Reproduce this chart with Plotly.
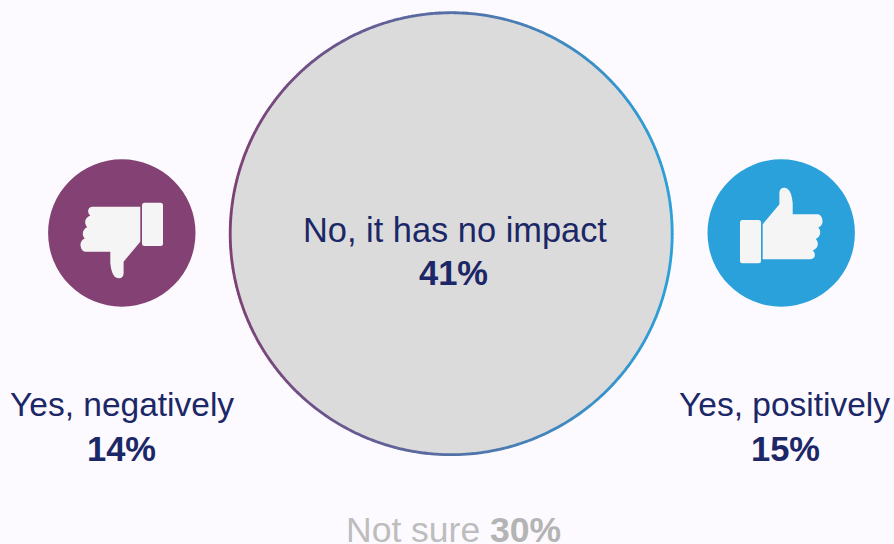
import numpy as np
import plotly.graph_objects as go

WIDTH, HEIGHT = 894, 544
BACKGROUND = "#FCFAFE"
NAVY = "#1B2766"
GREY_TEXT = "#BDBDBD"
GREY_BOLD = "#B4B4B4"
FONT = "Liberation Sans"

# Survey answers
categories = ["Yes, negatively", "No, it has no impact", "Yes, positively", "Not sure"]
shares = [14, 41, 15, 30]

# Ring gradient ends, left to right
RING_LEFT = (125, 62, 116)
RING_RIGHT = (42, 160, 217)

# Hand outline for the thumbs-down icon, relative to the icon centre
HAND = [
    ("M", 18.5, -26.3), ("L", -29.0, -26.3), ("Q", -34.5, -26.0, -33.5, -20.5),
    ("Q", -33.0, -18.5, -31.5, -17.5), ("Q", -37.5, -15.0, -36.5, -9.5),
    ("Q", -36.0, -7.0, -34.5, -6.0), ("Q", -40.0, -3.0, -38.8, 2.5),
    ("Q", -38.5, 4.0, -37.0, 5.5), ("Q", -42.5, 8.0, -41.0, 14.0),
    ("Q", -40.0, 18.7, -36.0, 18.7), ("L", -11.5, 18.7), ("L", -11.5, 30.0),
    ("Q", -10.0, 45.3, -3.0, 45.3), ("Q", 2.5, 45.3, 1.8, 38.0),
    ("L", 1.8, 28.7), ("L", 18.5, 8.7), ("Z",),
]
CUFF = (20.2, 41.2, -30.3, 13.0)


def hand_path(cx, cy, flip):
    s = -1 if flip else 1
    parts = []
    for cmd in HAND:
        nums = [
            f"{cx + s * v:.2f}" if i % 2 == 0 else f"{cy + s * v:.2f}"
            for i, v in enumerate(cmd[1:])
        ]
        parts.append(cmd[0] + " " + " ".join(nums))
    return " ".join(parts)


def rounded_rect(x0, x1, y0, y1, r=2.5):
    return (
        f"M {x0 + r} {y0} L {x1 - r} {y0} Q {x1} {y0} {x1} {y0 + r} "
        f"L {x1} {y1 - r} Q {x1} {y1} {x1 - r} {y1} L {x0 + r} {y1} "
        f"Q {x0} {y1} {x0} {y1 - r} L {x0} {y0 + r} Q {x0} {y0} {x0 + r} {y0} Z"
    )


def icon(cx, cy, r, colour, flip):
    s = -1 if flip else 1
    xa, xb = sorted((cx + s * CUFF[0], cx + s * CUFF[1]))
    ya, yb = sorted((cy + s * CUFF[2], cy + s * CUFF[3]))
    return [
        dict(type="circle", x0=cx - r, x1=cx + r, y0=cy - r, y1=cy + r,
             fillcolor=colour, line_width=0),
        dict(type="path", path=hand_path(cx, cy, flip), fillcolor="#F5F5F5", line_width=0),
        dict(type="path", path=rounded_rect(xa, xb, ya, yb), fillcolor="#F5F5F5", line_width=0),
    ]


# Central disc with a ring whose colour runs from left to right
CX, CY, R = 451.2, 233.7, 221.0
shapes = [dict(type="circle", x0=CX - R, x1=CX + R, y0=CY - R, y1=CY + R,
               fillcolor="#DBDBDB", line_width=0)]
angles = np.linspace(0, 2 * np.pi, 361)
for a0, a1 in zip(angles[:-1], angles[1:]):
    t = (np.cos((a0 + a1) / 2) + 1) / 2
    rgb = [round(p + (q - p) * t) for p, q in zip(RING_LEFT, RING_RIGHT)]
    a2 = a1 + 0.002
    shapes.append(dict(
        type="path",
        path=f"M {CX + R * np.cos(a0):.2f} {CY + R * np.sin(a0):.2f} "
             f"L {CX + R * np.cos(a2):.2f} {CY + R * np.sin(a2):.2f}",
        line=dict(color=f"rgb({rgb[0]},{rgb[1]},{rgb[2]})", width=2.8),
    ))

shapes += icon(121.8, 233.0, 73.7, "#834174", False)
shapes += icon(781.2, 233.0, 73.7, "#2AA1DA", True)


def label(x, y, text, colour=NAVY, size=33.5):
    return dict(x=x, y=y, text=text, showarrow=False, xanchor="center", yanchor="middle",
                font=dict(family=FONT, size=size, color=colour))


not_sure = (f"{categories[3]} "
            f"<b><span style='color:{GREY_BOLD}'>{shares[3]}%</span></b>")

annotations = [
    label(121.5, 404.5, categories[0]),
    label(121, 449, f"<b>{shares[0]}%</b>", size=34.5),
    label(455, 230, categories[1], size=34.4),
    label(453.5, 273, f"<b>{shares[1]}%</b>", size=34.5),
    label(784, 404.5, categories[2]),
    label(785, 449, f"<b>{shares[2]}%</b>", size=34.5),
    label(453.5, 530, not_sure, GREY_TEXT, size=35.5),
]

fig = go.Figure()
fig.update_layout(
    width=WIDTH, height=HEIGHT,
    margin=dict(l=0, r=0, t=0, b=0),
    paper_bgcolor=BACKGROUND, plot_bgcolor=BACKGROUND,
    showlegend=False,
    xaxis=dict(range=[0, WIDTH], visible=False, fixedrange=True),
    yaxis=dict(range=[HEIGHT, 0], visible=False, fixedrange=True),
    shapes=shapes, annotations=annotations,
)
fig.write_html("out.html", config={"displayModeBar": False})
